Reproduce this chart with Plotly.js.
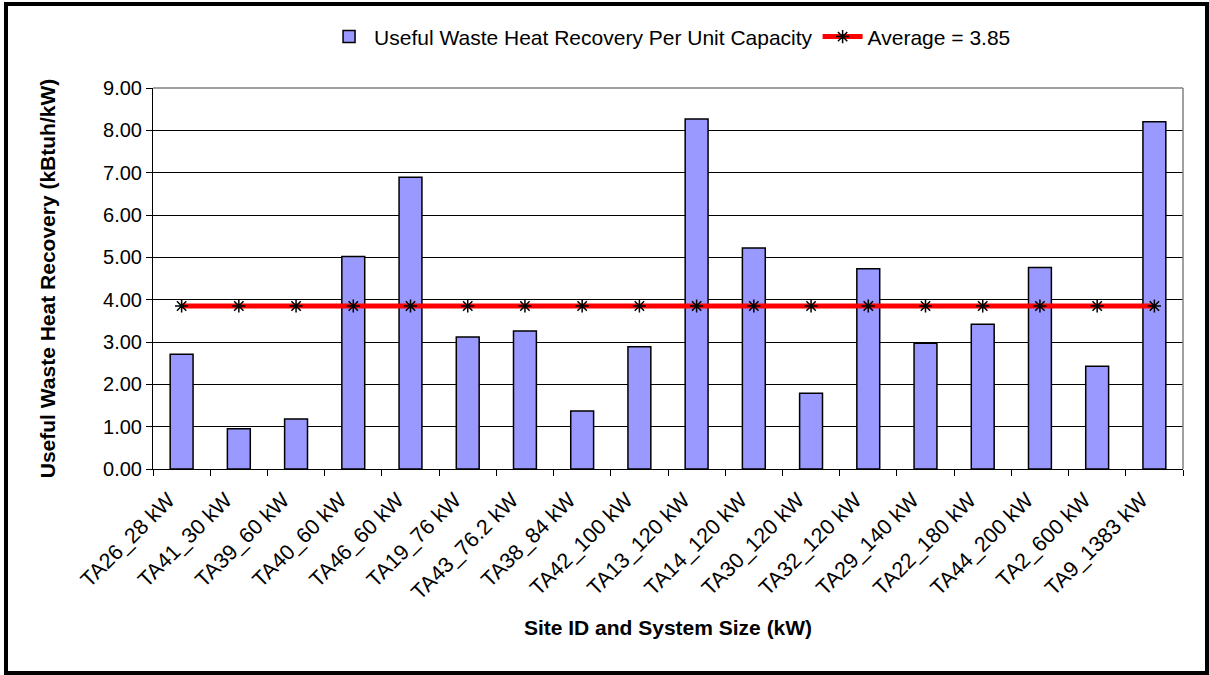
<!DOCTYPE html>
<html>
<head>
<meta charset="utf-8">
<script src="https://cdn.plot.ly/plotly-3.0.1.min.js"></script>
<style>
  html, body { margin: 0; padding: 0; background: #fff; }
  #wrap { position: relative; width: 1209px; height: 675px; }
  #chart { width: 1209px; height: 675px; }
  #frame { position: absolute; left: 4px; top: 2px; width: 1205px; height: 673px;
           border: 4px solid #000; box-sizing: border-box; pointer-events: none; }
</style>
</head>
<body>
<div id="wrap">
  <div id="chart"></div>
  <div id="frame"></div>
</div>
<script>
// ---- data ----
const sites = ["TA26_28 kW", "TA41_30 kW", "TA39_60 kW", "TA40_60 kW", "TA46_60 kW",
  "TA19_76 kW", "TA43_76.2 kW", "TA38_84 kW", "TA42_100 kW", "TA13_120 kW",
  "TA14_120 kW", "TA30_120 kW", "TA32_120 kW", "TA29_140 kW", "TA22_180 kW",
  "TA44_200 kW", "TA2_600 kW", "TA9_1383 kW"];
const recoveryPerKW = [2.71, 0.95, 1.18, 5.02, 6.89, 3.12, 3.26, 1.37, 2.89, 8.27,
  5.22, 1.79, 4.73, 2.97, 3.42, 4.76, 2.43, 8.20];
const averageValue = 3.85;
const averageLine = sites.map(() => averageValue);
const barName = "Useful Waste Heat Recovery Per Unit Capacity";
const avgName = "Average = 3.85";
const yTickVals = [0, 1, 2, 3, 4, 5, 6, 7, 8, 9];

const FONT = "Arial, 'Liberation Sans', sans-serif";

const traces = [
  {
    type: "bar",
    name: barName,
    x: sites,
    y: recoveryPerKW,
    marker: { color: "#9999FF", line: { color: "#000000", width: 1.5 } },
    hoverinfo: "x+y"
  },
  {
    type: "scatter",
    mode: "lines+markers",
    name: avgName,
    x: sites,
    y: averageLine,
    line: { color: "#FF0000", width: 5 },
    marker: { symbol: "asterisk-open", size: 11, color: "#000000",
              line: { color: "#000000", width: 1.5 } }
  }
];

const layout = {
  width: 1209,
  height: 675,
  margin: { l: 153, r: 26, t: 88, b: 206, autoexpand: false },
  paper_bgcolor: "#ffffff",
  plot_bgcolor: "#ffffff",
  font: { family: FONT, color: "#000000", size: 20 },
  bargap: 0.6,
  showlegend: true,
  legend: {
    orientation: "h",
    x: 0.502, xanchor: "center",
    y: 1.134, yanchor: "middle",
    font: { family: FONT, size: 21, color: "#000" },
    bgcolor: "rgba(0,0,0,0)",
    itemwidth: 40,
    traceorder: "normal"
  },
  xaxis: {
    type: "category",
    range: [-0.5, sites.length - 0.5],
    autorange: false,
    tickangle: -45,
    tickfont: { family: FONT, size: 21.5, color: "#000" },
    ticklabelshift: -13,
    ticklabelstandoff: 9,
    ticks: "outside",
    tickson: "boundaries",
    ticklen: 6,
    tickcolor: "#000",
    showline: true,
    linecolor: "#000",
    linewidth: 1,
    showgrid: false,
    automargin: false,
    title: { text: "Site ID and System Size (kW)", standoff: 16,
             font: { family: FONT, size: 21, color: "#000", weight: "bold" } }
  },
  yaxis: {
    range: [0, 9],
    autorange: false,
    tickvals: yTickVals,
    tickformat: ".2f",
    tickfont: { family: FONT, size: 20, color: "#000" },
    ticks: "outside",
    ticklen: 6,
    tickcolor: "#000",
    showline: true,
    linecolor: "#000",
    linewidth: 1,
    showgrid: true,
    gridcolor: "#000000",
    gridwidth: 1,
    zeroline: false,
    automargin: false,
    title: { text: "Useful Waste Heat Recovery (kBtuh/kW)", standoff: 41,
             font: { family: FONT, size: 21, color: "#000", weight: "bold" } }
  },
  shapes: [
    { type: "line", xref: "paper", yref: "paper", x0: 0, x1: 1, y0: 1, y1: 1,
      line: { color: "#808080", width: 1.5 }, layer: "above" },
    { type: "line", xref: "paper", yref: "paper", x0: 1, x1: 1, y0: 0, y1: 1,
      line: { color: "#808080", width: 1.5 }, layer: "above" }
  ]
};

Plotly.newPlot("chart", traces, layout, { displayModeBar: false, staticPlot: true });
</script>
</body>
</html>
